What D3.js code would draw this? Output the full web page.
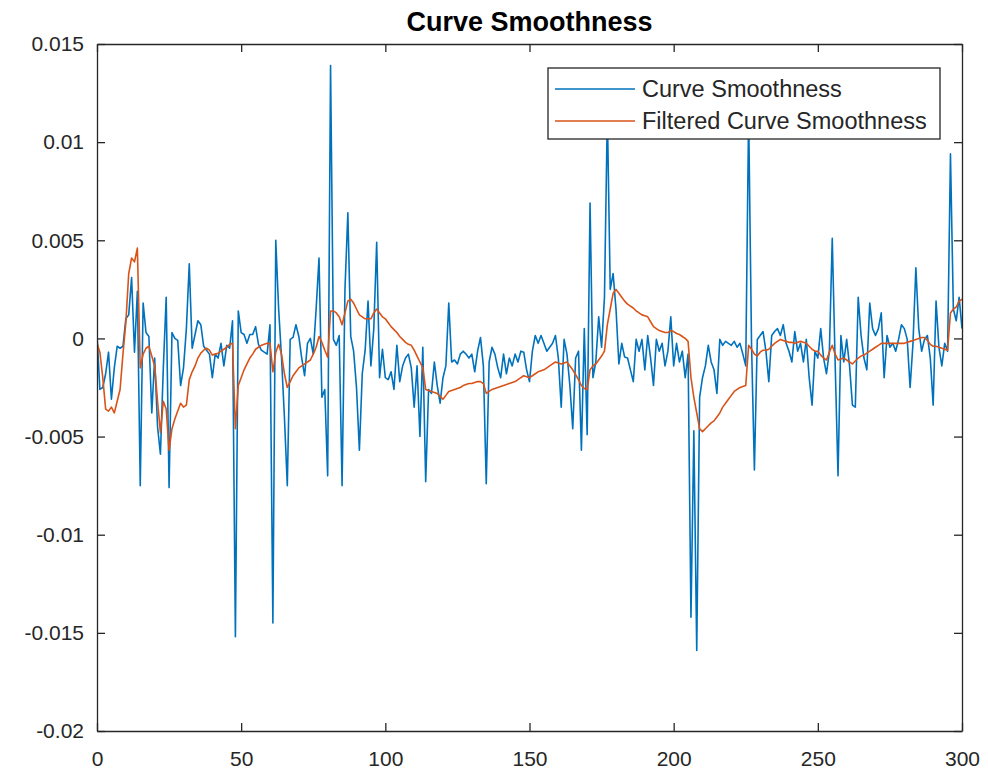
<!DOCTYPE html>
<html><head><meta charset="utf-8">
<script src="https://cdn.jsdelivr.net/npm/d3@7/dist/d3.min.js"></script>
<style>body{margin:0;background:#fff}svg{display:block}</style>
</head><body><svg id="chart" width="988" height="774"></svg>
<script>
// Curve smoothness (raw), index 0..300
const smoothness = [
0.2e-3,-2.6e-3,-2.5e-3,-1.8e-3,-0.7e-3,-3.1e-3,-1.5e-3,-0.4e-3,-0.5e-3,-0.4e-3,
1.0e-3,1.2e-3,3.1e-3,-0.7e-3,2.4e-3,-7.5e-3,1.8e-3,0.3e-3,0.1e-3,-3.8e-3,
-1.0e-3,-4.5e-3,-5.9e-3,-1.5e-3,2.1e-3,-7.6e-3,0.3e-3,0.0e-3,-0.1e-3,-2.4e-3,
-1.5e-3,0.5e-3,3.8e-3,-0.5e-3,0.2e-3,0.9e-3,0.7e-3,-0.4e-3,-0.6e-3,-0.8e-3,
-2.0e-3,-0.8e-3,-1.0e-3,-0.25e-3,-1.4e-3,-0.35e-3,-0.5e-3,0.9e-3,-15.2e-3,1.4e-3,
0.3e-3,0.2e-3,-0.25e-3,0.2e-3,0.2e-3,0.6e-3,-0.3e-3,-0.6e-3,-0.7e-3,-0.8e-3,
0.7e-3,-14.5e-3,5.0e-3,1.5e-3,-1.0e-3,-4.0e-3,-7.5e-3,-0.05e-3,0.05e-3,0.7e-3,
0.1e-3,-1.0e-3,-1.9e-3,-0.25e-3,0.0e-3,-0.8e-3,1.5e-3,4.1e-3,-3.0e-3,-2.6e-3,
-7.0e-3,13.9e-3,-0.05e-3,-0.35e-3,0.15e-3,-7.5e-3,2.5e-3,6.4e-3,0.1e-3,-0.65e-3,
-2.5e-3,-5.7e-3,-1.8e-3,-0.6e-3,1.9e-3,-1.4e-3,0.5e-3,4.9e-3,-2.0e-3,-0.55e-3,
-2.0e-3,-2.1e-3,-1.7e-3,-2.6e-3,-0.35e-3,-2.2e-3,-1.4e-3,-1.0e-3,-0.8e-3,-1.5e-3,
-3.5e-3,-1.4e-3,-5.0e-3,-0.45e-3,-7.3e-3,-2.6e-3,-2.8e-3,-1.2e-3,-2.4e-3,-3.3e-3,
-2.0e-3,-1.4e-3,1.8e-3,-1.2e-3,-1.1e-3,-1.3e-3,-0.8e-3,-0.65e-3,-0.8e-3,-1.0e-3,
-0.8e-3,-1.7e-3,-0.65e-3,0.05e-3,-1.4e-3,-7.4e-3,-1.2e-3,-0.45e-3,-0.8e-3,-1.5e-3,
-2.0e-3,-0.8e-3,-1.8e-3,-1.0e-3,-1.4e-3,-0.8e-3,-1.2e-3,-0.65e-3,-0.7e-3,-1.6e-3,
-2.2e-3,-0.65e-3,0.15e-3,-0.25e-3,0.15e-3,-0.25e-3,-0.65e-3,-0.45e-3,-0.25e-3,0.15e-3,
-1.0e-3,-3.5e-3,-0.05e-3,-0.8e-3,-2.4e-3,-4.6e-3,-1.0e-3,-0.65e-3,-5.7e-3,0.5e-3,
-4.9e-3,6.9e-3,-2.0e-3,-1.2e-3,1.1e-3,-0.45e-3,2.1e-3,11.5e-3,2.5e-3,3.3e-3,
1.5e-3,-1.3e-3,-0.25e-3,-0.95e-3,-1.0e-3,-1.6e-3,-2.2e-3,-0.05e-3,-0.65e-3,-0.05e-3,
-1.6e-3,0.15e-3,-1.0e-3,-2.4e-3,-0.05e-3,-0.65e-3,-0.25e-3,-1.4e-3,-0.65e-3,1.1e-3,
-1.4e-3,-0.25e-3,-1.2e-3,-0.65e-3,-2.0e-3,-0.8e-3,-14.2e-3,-4.7e-3,-15.9e-3,-3.0e-3,
-2.0e-3,-1.4e-3,-0.35e-3,-1.2e-3,-1.6e-3,-2.8e-3,-0.05e-3,-0.35e-3,-0.15e-3,-0.25e-3,
-0.35e-3,-0.15e-3,-0.45e-3,-0.25e-3,-0.8e-3,-1.4e-3,11.5e-3,-0.25e-3,-6.7e-3,-0.05e-3,
0.15e-3,0.35e-3,-0.65e-3,-2.2e-3,0.15e-3,0.35e-3,0.5e-3,0.15e-3,0.7e-3,-0.25e-3,
-0.65e-3,-1.2e-3,0.35e-3,-0.65e-3,-0.25e-3,-1.2e-3,-0.05e-3,-2.0e-3,-3.4e-3,-0.65e-3,
-1.0e-3,0.5e-3,-1.0e-3,-1.8e-3,-0.65e-3,5.1e-3,-1.2e-3,-7.0e-3,0.15e-3,-1.2e-3,
-0.05e-3,-1.4e-3,-3.4e-3,-3.5e-3,2.1e-3,0.15e-3,-1.0e-3,-1.6e-3,1.8e-3,0.5e-3,
0.15e-3,0.5e-3,1.3e-3,-2.0e-3,0.15e-3,-0.45e-3,-0.25e-3,-0.65e-3,-0.05e-3,0.7e-3,
0.5e-3,-0.05e-3,-2.5e-3,-0.25e-3,3.6e-3,0.5e-3,-0.65e-3,-0.05e-3,0.15e-3,-1.0e-3,
-3.4e-3,1.9e-3,-0.45e-3,-1.4e-3,-0.25e-3,-0.65e-3,9.4e-3,1.5e-3,0.9e-3,2.1e-3,
0.5e-3
];
// Filtered curve smoothness, index 0..300
const filteredSmoothness = [
-0.25e-3,-0.7e-3,-2.0e-3,-3.6e-3,-3.7e-3,-3.5e-3,-3.8e-3,-3.2e-3,-2.6e-3,-0.8e-3,
0.8e-3,3.3e-3,4.1e-3,3.9e-3,4.6e-3,-1.5e-3,-0.8e-3,-0.5e-3,-0.4e-3,-0.9e-3,
-1.4e-3,-3.2e-3,-4.8e-3,-3.2e-3,-3.6e-3,-5.7e-3,-4.6e-3,-4.1e-3,-3.7e-3,-3.3e-3,
-3.5e-3,-3.4e-3,-2.1e-3,-1.7e-3,-1.4e-3,-1.0e-3,-0.75e-3,-0.6e-3,-0.5e-3,-0.6e-3,
-0.85e-3,-0.8e-3,-0.75e-3,-0.65e-3,-0.55e-3,-0.45e-3,-0.3e-3,-0.25e-3,-4.6e-3,-2.4e-3,
-2.0e-3,-1.6e-3,-1.3e-3,-1.0e-3,-0.8e-3,-0.55e-3,-0.45e-3,-0.35e-3,-0.3e-3,-0.25e-3,
-0.25e-3,-1.7e-3,-0.7e-3,-0.3e-3,-0.8e-3,-1.8e-3,-2.5e-3,-2.2e-3,-1.9e-3,-1.7e-3,
-1.5e-3,-1.4e-3,-1.3e-3,-1.2e-3,-1.1e-3,-0.8e-3,-0.45e-3,0.1e-3,-0.2e-3,-0.6e-3,
-0.95e-3,1.4e-3,1.4e-3,1.3e-3,1.1e-3,0.7e-3,1.3e-3,1.9e-3,2.0e-3,1.8e-3,
1.5e-3,1.2e-3,1.1e-3,1.0e-3,1.0e-3,1.0e-3,1.3e-3,1.5e-3,1.3e-3,1.1e-3,
1.0e-3,0.8e-3,0.6e-3,0.45e-3,0.3e-3,0.1e-3,-0.05e-3,-0.2e-3,-0.3e-3,-0.35e-3,
-0.6e-3,-0.9e-3,-1.2e-3,-1.5e-3,-2.6e-3,-2.65e-3,-2.7e-3,-2.75e-3,-2.8e-3,-2.95e-3,
-3.1e-3,-2.9e-3,-2.7e-3,-2.65e-3,-2.6e-3,-2.55e-3,-2.5e-3,-2.4e-3,-2.35e-3,-2.3e-3,
-2.3e-3,-2.25e-3,-2.2e-3,-2.2e-3,-2.3e-3,-2.8e-3,-2.7e-3,-2.6e-3,-2.55e-3,-2.5e-3,
-2.45e-3,-2.4e-3,-2.35e-3,-2.3e-3,-2.25e-3,-2.2e-3,-2.1e-3,-2.0e-3,-1.9e-3,-1.95e-3,
-2.0e-3,-1.9e-3,-1.8e-3,-1.7e-3,-1.65e-3,-1.6e-3,-1.5e-3,-1.4e-3,-1.3e-3,-1.2e-3,
-1.25e-3,-1.3e-3,-1.25e-3,-1.2e-3,-1.4e-3,-1.6e-3,-1.85e-3,-2.1e-3,-2.4e-3,-2.55e-3,
-2.6e-3,-1.6e-3,-1.4e-3,-1.3e-3,-1.1e-3,-0.9e-3,-0.65e-3,0.7e-3,1.5e-3,2.3e-3,
2.5e-3,2.3e-3,2.1e-3,1.9e-3,1.75e-3,1.65e-3,1.55e-3,1.4e-3,1.3e-3,1.2e-3,
1.15e-3,1.1e-3,0.85e-3,0.6e-3,0.5e-3,0.4e-3,0.35e-3,0.3e-3,0.3e-3,0.4e-3,
0.35e-3,0.25e-3,0.2e-3,0.1e-3,0.0e-3,-0.15e-3,-2.0e-3,-3.0e-3,-3.8e-3,-4.6e-3,
-4.75e-3,-4.6e-3,-4.45e-3,-4.3e-3,-4.2e-3,-4.0e-3,-3.8e-3,-3.5e-3,-3.3e-3,-3.1e-3,
-2.9e-3,-2.7e-3,-2.6e-3,-2.5e-3,-2.45e-3,-2.4e-3,-0.35e-3,-0.55e-3,-0.8e-3,-0.9e-3,
-0.7e-3,-0.6e-3,-0.6e-3,-0.55e-3,-0.4e-3,-0.25e-3,-0.15e-3,-0.05e-3,-0.1e-3,-0.15e-3,
-0.2e-3,-0.2e-3,-0.25e-3,-0.2e-3,-0.15e-3,-0.2e-3,-0.25e-3,-0.4e-3,-0.55e-3,-0.65e-3,
-0.65e-3,-0.85e-3,-1.0e-3,-1.1e-3,-0.7e-3,-0.35e-3,-0.8e-3,-1.1e-3,-1.05e-3,-1.0e-3,
-1.1e-3,-1.2e-3,-1.3e-3,-1.15e-3,-1.0e-3,-0.9e-3,-0.85e-3,-0.75e-3,-0.65e-3,-0.55e-3,
-0.45e-3,-0.35e-3,-0.25e-3,-0.25e-3,-0.25e-3,-0.25e-3,-0.25e-3,-0.25e-3,-0.25e-3,-0.25e-3,
-0.25e-3,-0.2e-3,-0.15e-3,-0.1e-3,-0.05e-3,0.0e-3,0.05e-3,0.05e-3,-0.1e-3,-0.3e-3,
-0.4e-3,-0.4e-3,-0.45e-3,-0.5e-3,-0.55e-3,-0.6e-3,1.3e-3,1.5e-3,1.6e-3,1.9e-3,
2.0e-3
];
const seriesNames = ["Curve Smoothness", "Filtered Curve Smoothness"];
const seriesColors = ["#0072BD", "#D95319"];
const xTickValues = [0, 50, 100, 150, 200, 250, 300];
const yTickValues = [0.015, 0.01, 0.005, 0, -0.005, -0.01, -0.015, -0.02];
const yTickLabels = ["0.015", "0.01", "0.005", "0", "-0.005", "-0.01", "-0.015", "-0.02"];
const titleText = "Curve Smoothness";

const W = 988, H = 774;
const plot = {left: 97, right: 962, top: 44, bottom: 731};
const FONT = "'Liberation Sans', Arial, Helvetica, sans-serif";
const AX = "#262626";

const svg = d3.select("#chart");
const x = d3.scaleLinear().domain([0, 300]).range([plot.left, plot.right]);
const y = d3.scaleLinear().domain([-0.02, 0.015]).range([plot.bottom, plot.top]);

svg.append("defs").append("clipPath").attr("id", "clip")
  .append("rect").attr("x", plot.left).attr("y", plot.top)
  .attr("width", plot.right - plot.left).attr("height", plot.bottom - plot.top);

const line = d3.line().x((d, i) => x(i)).y(d => y(d));
const g = svg.append("g").attr("clip-path", "url(#clip)");
[smoothness, filteredSmoothness].forEach((s, k) => {
  g.append("path").datum(s).attr("d", line)
    .attr("fill", "none").attr("stroke", seriesColors[k])
    .attr("stroke-width", 1.6).attr("stroke-linejoin", "round");
});

function styleAxis(sel) {
  sel.select(".domain").attr("stroke", AX).attr("stroke-width", 1.3);
  sel.selectAll(".tick line").attr("stroke", AX).attr("stroke-width", 1.3);
  sel.selectAll(".tick text").attr("fill", AX).style("font-family", FONT).style("font-size", "21px");
}
const yFmt = d => yTickLabels[yTickValues.indexOf(d)];
svg.append("g").attr("transform", `translate(0,${plot.bottom})`)
  .call(d3.axisBottom(x).tickValues(xTickValues).tickSizeInner(-8).tickSizeOuter(0).tickPadding(20).tickFormat(d3.format("d")))
  .call(styleAxis);
svg.append("g").attr("transform", `translate(0,${plot.top})`)
  .call(d3.axisTop(x).tickValues(xTickValues).tickSizeInner(-8).tickSizeOuter(0).tickFormat(""))
  .call(styleAxis);
svg.append("g").attr("transform", `translate(${plot.left},0)`)
  .call(d3.axisLeft(y).tickValues(yTickValues).tickSizeInner(-8).tickSizeOuter(0).tickPadding(13).tickFormat(yFmt))
  .call(styleAxis);
svg.append("g").attr("transform", `translate(${plot.right},0)`)
  .call(d3.axisRight(y).tickValues(yTickValues).tickSizeInner(-8).tickSizeOuter(0).tickFormat(""))
  .call(styleAxis);

svg.append("text").attr("x", (plot.left + plot.right) / 2).attr("y", 31)
  .attr("text-anchor", "middle").attr("fill", "#000")
  .style("font-family", FONT).style("font-size", "27px").style("font-weight", "bold")
  .text(titleText);

const lg = svg.append("g");
lg.append("rect").attr("x", 548).attr("y", 68).attr("width", 392).attr("height", 71)
  .attr("fill", "#fff").attr("stroke", AX).attr("stroke-width", 1.3);
seriesNames.forEach((name, k) => {
  const ly = 89 + k * 32;
  lg.append("line").attr("x1", 555).attr("x2", 635).attr("y1", ly).attr("y2", ly)
    .attr("stroke", seriesColors[k]).attr("stroke-width", 1.6);
  lg.append("text").attr("x", 642).attr("y", ly).attr("dy", "0.35em")
    .attr("fill", AX).style("font-family", FONT).style("font-size", "23.5px").text(name);
});
</script>
</body></html>
